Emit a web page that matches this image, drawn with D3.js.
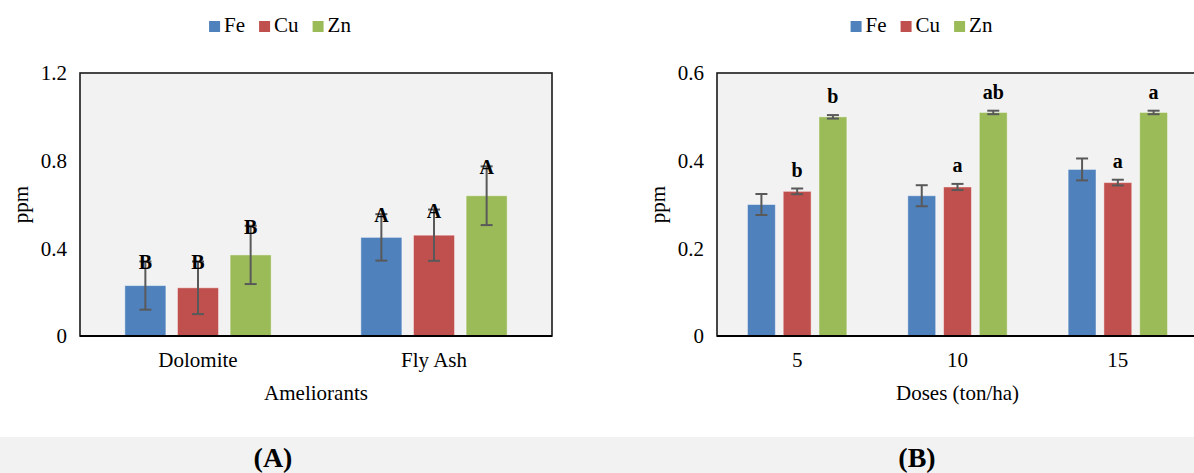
<!DOCTYPE html>
<html><head><meta charset="utf-8">
<script src="https://cdn.jsdelivr.net/npm/d3@7"></script>
<style>body{margin:0;background:#fff}svg{display:block}text{font-family:"Liberation Serif","Times New Roman",serif;fill:#000}</style>
</head><body>
<svg id="c" width="1194" height="473"></svg>
<script>
// ---- data ----
const series = ["Fe", "Cu", "Zn"];
// Chart A
const catsA = ["Dolomite", "Fly Ash"];
const feA = [0.23, 0.45];
const cuA = [0.22, 0.46];
const znA = [0.37, 0.64];
const feErrA = [0.11, 0.106];
const cuErrA = [0.12, 0.117];
const znErrA = [0.133, 0.134];
const feLabA = ["B", "A"];
const cuLabA = ["B", "A"];
const znLabA = ["B", "A"];
const ticksA = [0, 0.4, 0.8, 1.2];
// Chart B
const catsB = ["5", "10", "15"];
const feB = [0.30, 0.32, 0.38];
const cuB = [0.33, 0.34, 0.35];
const znB = [0.50, 0.51, 0.51];
const feErrB = [0.024, 0.024, 0.025];
const cuErrB = [0.0065, 0.007, 0.0065];
const znErrB = [0.004, 0.004, 0.004];
const feLabB = ["", "", ""];
const cuLabB = ["b", "a", "a"];
const znLabB = ["b", "ab", "a"];
const ticksB = [0, 0.2, 0.4, 0.6];

const colors = {Fe: "#4f81bd", Cu: "#c0504d", Zn: "#9bbb59"};
const FONT = '"Liberation Serif","Times New Roman",serif';
const svg = d3.select("#c");

// bottom caption band
svg.append("rect").attr("x", 0).attr("y", 437).attr("width", 1194).attr("height", 36).attr("fill", "#f2f2f2");
svg.append("text").attr("x", 273).attr("y", 467).attr("text-anchor", "middle")
  .style("font-size", "28px").style("font-weight", "bold").text("(A)");
svg.append("text").attr("x", 917).attr("y", 467).attr("text-anchor", "middle")
  .style("font-size", "28px").style("font-weight", "bold").text("(B)");

function chart(opt) {
  const {left, right, top, bottom, cats, vals, errs, labs, ticks, xTitle, labelMode} = opt;
  const g = svg.append("g");
  const x = d3.scaleBand().domain(cats).range([left, right]);
  const y = d3.scaleLinear().domain([0, ticks[ticks.length - 1]]).range([bottom, top]);
  const groupW = x.bandwidth() * 0.62;
  const x1 = d3.scaleBand().domain(series).range([0, groupW]).paddingInner(0.22);
  const off = (x.bandwidth() - groupW) / 2;

  g.append("rect").attr("x", left).attr("y", top).attr("width", right - left).attr("height", bottom - top)
    .attr("fill", "#f2f2f2").attr("stroke", "#1a1a1a").attr("stroke-width", 1.6);

  // y axis labels
  const ya = g.append("g").attr("transform", `translate(${left},0)`)
    .call(d3.axisLeft(y).tickValues(ticks).tickSize(0).tickPadding(13).tickFormat(d => d === 0 ? "0" : d3.format(".1f")(d)));
  ya.select(".domain").remove();
  ya.selectAll("text").style("font-size", "21px").style("font-family", FONT).attr("fill", "#000");

  // x axis
  const xa = g.append("g").attr("transform", `translate(0,${bottom})`)
    .call(d3.axisBottom(x).tickSize(0).tickPadding(16));
  xa.select(".domain").remove();
  xa.selectAll("text").style("font-size", "21px").style("font-family", FONT).attr("fill", "#000");

  // bars
  series.forEach((s, si) => {
    const v = vals[si], e = errs[si], lb = labs[si];
    cats.forEach((c, ci) => {
      const bx = x(c) + off + x1(s);
      const bw = x1.bandwidth();
      g.append("rect").attr("x", bx).attr("y", y(v[ci])).attr("width", bw).attr("height", y(0) - y(v[ci]))
        .attr("fill", colors[s]).attr("stroke", "rgba(255,255,255,0.45)").attr("stroke-width", 1);
      const cx = bx + bw / 2;
      const yt = y(v[ci] + e[ci]), yb = y(v[ci] - e[ci]);
      g.append("line").attr("x1", cx).attr("x2", cx).attr("y1", yt).attr("y2", yb).attr("stroke", "#595959").attr("stroke-width", 2);
      [yt, yb].forEach(yy => g.append("line").attr("x1", cx - 6).attr("x2", cx + 6).attr("y1", yy).attr("y2", yy)
        .attr("stroke", "#595959").attr("stroke-width", 2));
      if (lb[ci]) {
        g.append("text").attr("x", cx).attr("y", labelMode === "on" ? yt + 8 : yt - 12)
          .attr("text-anchor", "middle").style("font-size", "20px").style("font-weight", "bold").text(lb[ci]);
      }
    });
  });

  // bottom axis line
  g.append("line").attr("x1", left).attr("x2", right).attr("y1", bottom).attr("y2", bottom).attr("stroke", "#000").attr("stroke-width", 2.2);

  // axis titles
  g.append("text").attr("x", (left + right) / 2).attr("y", 400).attr("text-anchor", "middle").style("font-size", "21px").text(xTitle);
  g.append("text").attr("transform", `translate(${left - 59},${(top + bottom) / 2}) rotate(-90)`)
    .attr("text-anchor", "middle").attr("dy", "0.35em").style("font-size", "21px").text("ppm");

  // legend
  const lg = g.append("g");
  let cur = 0;
  series.forEach((s, i) => {
    lg.append("rect").attr("x", cur).attr("y", 21).attr("width", 11).attr("height", 11).attr("fill", colors[s]);
    const t = lg.append("text").attr("x", cur + 15).attr("y", 32).style("font-size", "21px").text(s);
    cur += 15 + t.node().getComputedTextLength() + 14;
  });
  const lw = cur - 14;
  lg.attr("transform", `translate(${(left + right) / 2 - 36 - lw / 2},0)`);
}

chart({left: 80, right: 552, top: 73, bottom: 336, cats: catsA,
  vals: [feA, cuA, znA], errs: [feErrA, cuErrA, znErrA], labs: [feLabA, cuLabA, znLabA],
  ticks: ticksA, xTitle: "Ameliorants", labelMode: "on"});
chart({left: 717, right: 1198, top: 73, bottom: 336, cats: catsB,
  vals: [feB, cuB, znB], errs: [feErrB, cuErrB, znErrB], labs: [feLabB, cuLabB, znLabB],
  ticks: ticksB, xTitle: "Doses (ton/ha)", labelMode: "above"});
</script>
</body></html>
